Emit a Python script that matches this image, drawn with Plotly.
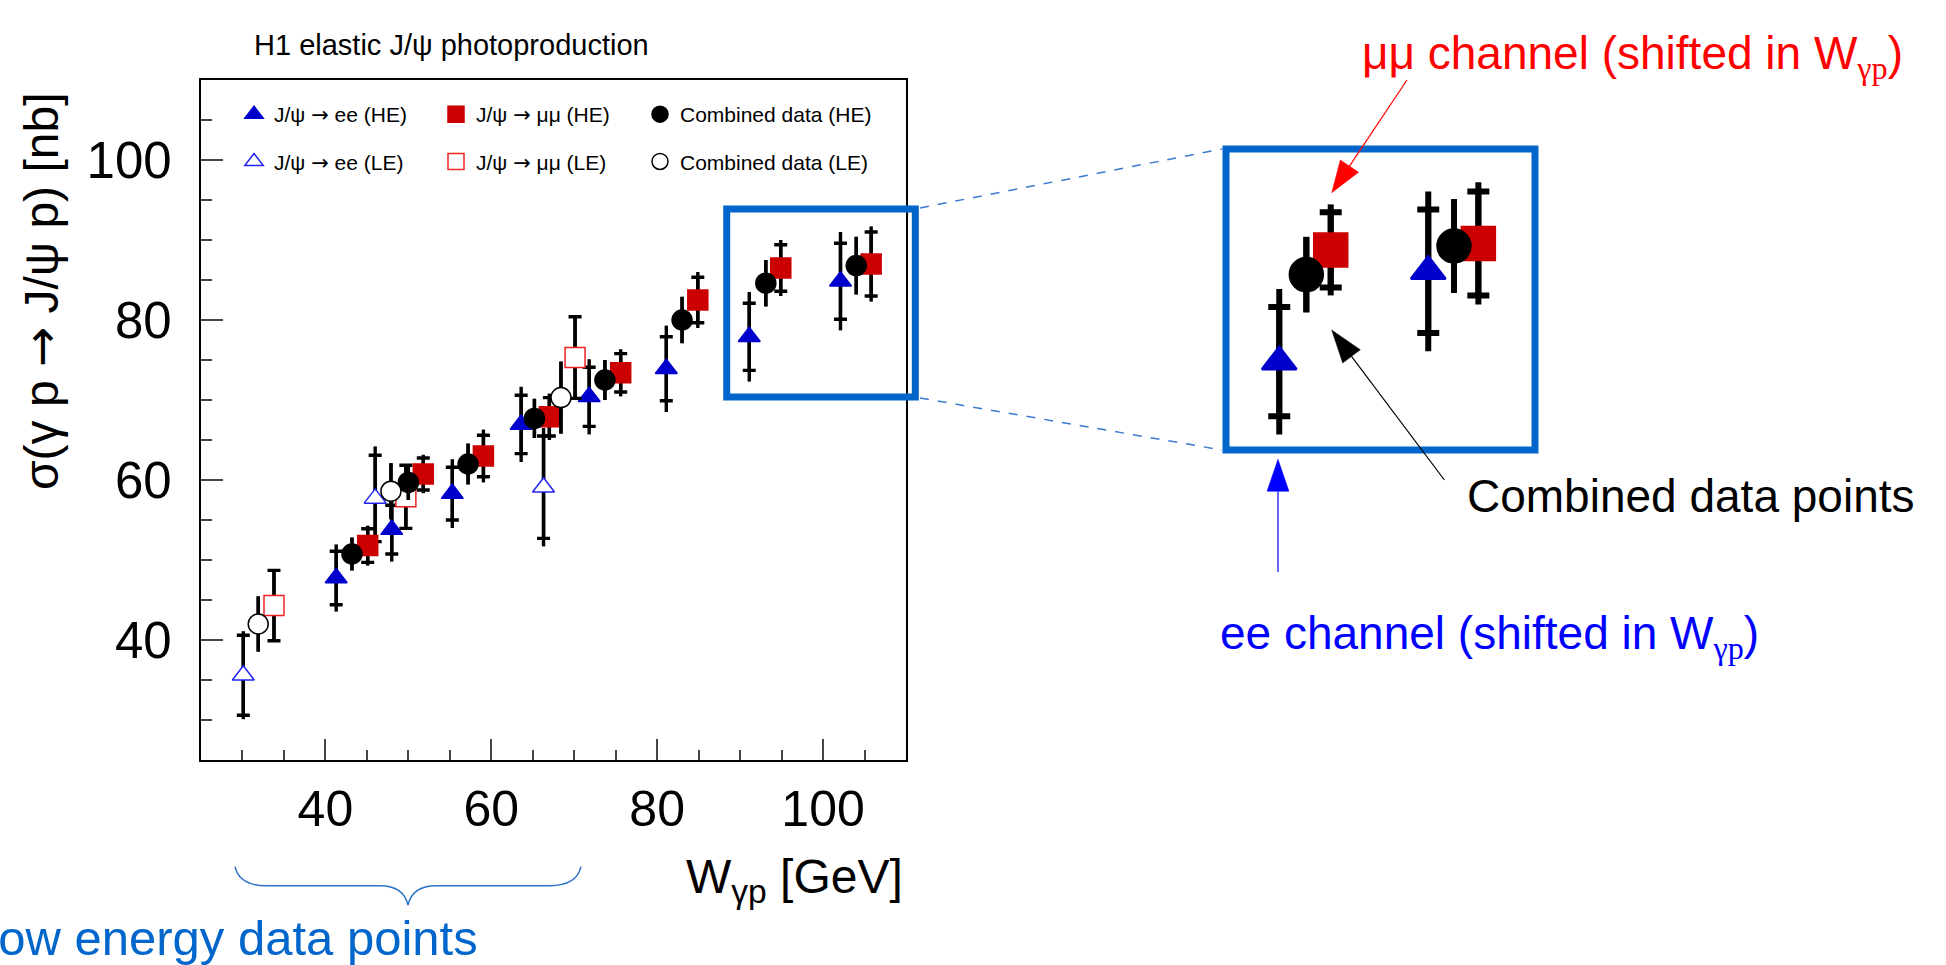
import numpy as np
import plotly.graph_objects as go

W, H = 1946, 965

# ---- H1 elastic J/psi photoproduction: W_gp [GeV], sigma [nb], errors [nb] ----
# J/psi -> ee, high-energy run (stat. and total errors)
ee_he_w    = [41.3, 48.0, 55.3, 63.6, 71.8, 81.1, 91.1, 102.1]
ee_he_sig  = [47.75, 53.8, 58.3, 66.95, 70.4, 73.9, 77.9, 84.85]
ee_he_stat = [3.35, 3.05, 3.3, 3.65, 3.7, 4.0, 4.2, 4.75]
ee_he_tot  = [4.2, 4.0, 4.3, 4.7, 4.7, 5.4, 5.6, 6.15]

# J/psi -> mumu, high-energy run
mm_he_w    = [45.1, 51.8, 59.05, 67.0, 75.6, 84.9, 94.9, 105.8]
mm_he_sig  = [51.8, 60.75, 63.0, 67.9, 73.4, 82.5, 86.5, 87.0]
mm_he_stat = [2.1, 2.0, 2.6, 2.4, 2.4, 2.85, 2.9, 4.0]
mm_he_tot  = [2.5, 2.4, 3.3, 2.9, 2.95, 3.5, 3.5, 4.7]

# combined, high-energy run
cb_he_w   = [43.2, 50.0, 57.2, 65.2, 73.7, 83.0, 93.1, 104.0]
cb_he_sig = [50.75, 59.7, 62.0, 67.7, 72.5, 80.0, 84.6, 86.8]
cb_he_err = [2.05, 2.2, 2.55, 2.45, 2.5, 2.9, 2.9, 3.6]

# low-energy run
ee_le_w    = [30.1, 46.0, 66.3]
ee_le_sig  = [35.6, 57.7, 59.1]
ee_le_stat = [5.0, 5.4, 6.4]
ee_le_tot  = [5.5, 6.5, 7.4]

mm_le_w   = [33.8, 49.7, 70.1]
mm_le_sig = [44.3, 57.9, 75.3]
mm_le_err = [4.4, 3.95, 5.1]

cb_le_w   = [31.9, 47.9, 68.4]
cb_le_sig = [42.0, 58.6, 70.3]
cb_le_err = [3.45, 3.5, 4.5]

x_ticks = [40, 60, 80, 100]
y_ticks = [40, 60, 80, 100]

SANS = "Liberation Sans, Arial, Helvetica, sans-serif"
BOX_BLUE = "#0066CC"
ARROW = '<span style="font-family:DejaVu Sans">→</span>'


def P(x, y):
    """pixel position -> paper coordinates string"""
    return f"{x / W:.5f},{1 - y / H:.5f}"


def fx(x):
    return x / W


def fy(y):
    return 1 - y / H


series = [
    dict(name=f"J/ψ {ARROW} ee (HE)", w=ee_he_w, s=ee_he_sig, stat=ee_he_stat, tot=ee_he_tot,
         sym="triangle-up", fill="#0000CC", edge="#0000CC", lg="legend"),
    dict(name=f"J/ψ {ARROW} ee (LE)", w=ee_le_w, s=ee_le_sig, stat=ee_le_stat, tot=ee_le_tot,
         sym="triangle-up", fill="white", edge="#2222EE", lg="legend"),
    dict(name=f"J/ψ {ARROW} μμ (HE)", w=mm_he_w, s=mm_he_sig, stat=mm_he_stat, tot=mm_he_tot,
         sym="square", fill="#CC0000", edge="#CC0000", lg="legend2"),
    dict(name=f"J/ψ {ARROW} μμ (LE)", w=mm_le_w, s=mm_le_sig, stat=mm_le_err, tot=mm_le_err,
         sym="square", fill="white", edge="#EE2222", lg="legend2"),
    dict(name="Combined data (HE)", w=cb_he_w, s=cb_he_sig, stat=None, tot=cb_he_err,
         sym="circle", fill="black", edge="black", lg="legend3"),
    dict(name="Combined data (LE)", w=cb_le_w, s=cb_le_sig, stat=None, tot=cb_le_err,
         sym="circle", fill="white", edge="black", lg="legend3"),
]

main_size = {"triangle-up": 19, "square": 20, "circle": 20}
zoom_size = {"triangle-up": 30, "square": 33, "circle": 33}

fig = go.Figure()


def add_series(sr, xa, ya, sizes, thick, cap, edge_w, show_legend, mask_lo=None):
    w = np.asarray(sr["w"], float)
    s = np.asarray(sr["s"], float)
    tot = np.asarray(sr["tot"], float)
    stat = None if sr["stat"] is None else np.asarray(sr["stat"], float)
    if mask_lo is not None:
        m = w > mask_lo
        if not m.any():
            return
        w, s, tot = w[m], s[m], tot[m]
        if stat is not None:
            stat = stat[m]
    # total uncertainty: plain line
    fig.add_trace(go.Scatter(
        x=w, y=s, mode="markers", xaxis=xa, yaxis=ya,
        marker=dict(size=1, color="rgba(0,0,0,0)"),
        error_y=dict(type="data", array=tot, symmetric=True, width=0,
                     thickness=thick, color="black"),
        showlegend=False, hoverinfo="skip"))
    # statistical uncertainty with tick marks, plus the marker itself
    err = dict(type="data", array=stat if stat is not None else tot, symmetric=True,
               width=cap if stat is not None else 0, thickness=thick, color="black")
    fig.add_trace(go.Scatter(
        x=w, y=s, mode="markers", xaxis=xa, yaxis=ya, name=sr["name"],
        legendgroup=sr["name"],
        marker=dict(symbol=sr["sym"], size=sizes[sr["sym"]], color=sr["fill"],
                    line=dict(color=sr["edge"], width=edge_w)),
        error_y=err, showlegend=show_legend, legend=sr["lg"]))


for sr in series:
    add_series(sr, "x", "y", main_size, 3.4, 6.5, 1.5, True)
for sr in series:
    add_series(sr, "x2", "y2", zoom_size, 6, 11, 2.5, False, mask_lo=88)

# ---- layout ----
axis_common = dict(showline=True, mirror=True, linecolor="black", linewidth=2.2,
                   ticks="inside", tickwidth=2, showgrid=False, zeroline=False)


def legend_col(x_px):
    return dict(orientation="v", x=fx(x_px), xanchor="left", y=fy(94), yanchor="top",
                font=dict(family=SANS, size=21, color="black"), tracegroupgap=17,
                bgcolor="rgba(0,0,0,0)", itemsizing="trace", traceorder="grouped")


fig.update_layout(
    width=W, height=H, margin=dict(l=0, r=0, t=0, b=0),
    paper_bgcolor="white", plot_bgcolor="white",
    xaxis=dict(domain=[fx(201), fx(906)], range=[25, 110], anchor="y",
               tickvals=x_ticks, ticklen=21, ticklabelstandoff=4,
               tickfont=dict(family=SANS, size=50, color="black"),
               minor=dict(dtick=5, tick0=0, ticklen=10, tickwidth=2, ticks="inside"),
               **axis_common),
    yaxis=dict(domain=[fy(760), fy(80)], range=[25, 110], anchor="x",
               tickvals=y_ticks, ticklen=22, ticklabelstandoff=17,
               tickfont=dict(family=SANS, size=51, color="black"),
               minor=dict(dtick=5, tick0=0, ticklen=11, tickwidth=2, ticks="inside"),
               **axis_common),
    xaxis2=dict(domain=[fx(1229), fx(1532)], range=[87.39, 109.76], anchor="y2",
                visible=False),
    yaxis2=dict(domain=[fy(447), fy(152)], range=[71.34, 94.03], anchor="x2",
                visible=False),
    legend=legend_col(234),
    legend2=legend_col(436),
    legend3=legend_col(640),
    showlegend=True,
)

SUB = '<sub><span style="font-family:Liberation Serif, Times New Roman, serif">γp</span></sub>'

ann = [
    dict(text="H1 elastic J/ψ photoproduction", x=fx(451), y=fy(45), xanchor="center",
         yanchor="middle", font=dict(family=SANS, size=29, color="black")),
    dict(text=f"σ(γ p {ARROW} J/ψ p) [nb]", x=fx(41), y=fy(291), xanchor="center",
         yanchor="middle", textangle=-90, font=dict(family=SANS, size=48, color="black")),
    dict(text="W<sub>γp</sub> [GeV]", x=fx(905), y=fy(880), xanchor="right", yanchor="middle",
         font=dict(family=SANS, size=48, color="black")),
    dict(text="Low energy data points", x=fx(480), y=fy(938), xanchor="right", yanchor="middle",
         font=dict(family=SANS, size=49, color=BOX_BLUE)),
    dict(text="μμ channel (shifted in W" + SUB + ")", x=fx(1360), y=fy(57), xanchor="left",
         yanchor="middle", font=dict(family=SANS, size=46, color="#FF0000")),
    dict(text="Combined data points", x=fx(1465), y=fy(496), xanchor="left", yanchor="middle",
         font=dict(family=SANS, size=46, color="black")),
    dict(text="ee channel (shifted in W" + SUB + ")", x=fx(1218), y=fy(636), xanchor="left",
         yanchor="middle", font=dict(family=SANS, size=46, color="#0000FF")),
]
for a in ann:
    a.update(xref="paper", yref="paper", showarrow=False)
fig.update_layout(annotations=ann)


def line_shape(p0, p1, color, width, dash="solid"):
    return dict(type="line", xref="paper", yref="paper", x0=fx(p0[0]), y0=fy(p0[1]),
                x1=fx(p1[0]), y1=fy(p1[1]), line=dict(color=color, width=width, dash=dash),
                layer="above")


def arrow(tail, tip, color, width=1.2, head_len=32, head_w=22):
    dx, dy = tip[0] - tail[0], tip[1] - tail[1]
    L = (dx * dx + dy * dy) ** 0.5
    ux, uy = dx / L, dy / L
    bx, by = tip[0] - ux * head_len, tip[1] - uy * head_len
    nx, ny = -uy, ux
    c1 = (bx + nx * head_w / 2, by + ny * head_w / 2)
    c2 = (bx - nx * head_w / 2, by - ny * head_w / 2)
    head = dict(type="path", xref="paper", yref="paper",
                path=f"M {P(*tip)} L {P(*c1)} L {P(*c2)} Z",
                fillcolor=color, line=dict(color=color, width=0.5), layer="above")
    return [line_shape(tail, (bx, by), color, width), head]


shapes = [
    # zoom window on the main frame
    dict(type="rect", xref="paper", yref="paper", x0=fx(726.7), x1=fx(915.3),
         y0=fy(397), y1=fy(209), line=dict(color=BOX_BLUE, width=7), layer="above"),
    # magnified view frame
    dict(type="rect", xref="paper", yref="paper", x0=fx(1226), x1=fx(1535),
         y0=fy(450), y1=fy(149), line=dict(color=BOX_BLUE, width=7), layer="above"),
    line_shape((920, 208), (1222, 149), "#3A7BD0", 1.5, "dash"),
    line_shape((920, 398), (1222, 450), "#3A7BD0", 1.5, "dash"),
    # curly brace under the low-energy points
    dict(type="path", xref="paper", yref="paper", line=dict(color="#2A72C8", width=1.5),
         path=(f"M {P(235, 866.7)} C {P(238, 880)} {P(248, 885.7)} {P(266, 885.7)} "
               f"L {P(380, 885.7)} C {P(396, 885.7)} {P(405, 892)} {P(408, 905)} "
               f"C {P(411, 892)} {P(420, 885.7)} {P(436, 885.7)} "
               f"L {P(550, 885.7)} C {P(568, 885.7)} {P(578, 880)} {P(581, 866.7)}")),
]
shapes += arrow((1407, 80), (1331.7, 192.7), "#FF0000", 1.2, 32, 22)
shapes += arrow((1444.4, 480), (1331.7, 330), "black", 1.2, 33, 22)
shapes += arrow((1278, 572), (1278, 459.3), "#0000FF", 1.2, 32, 22)
fig.update_layout(shapes=shapes)

fig.write_html("out.html")
